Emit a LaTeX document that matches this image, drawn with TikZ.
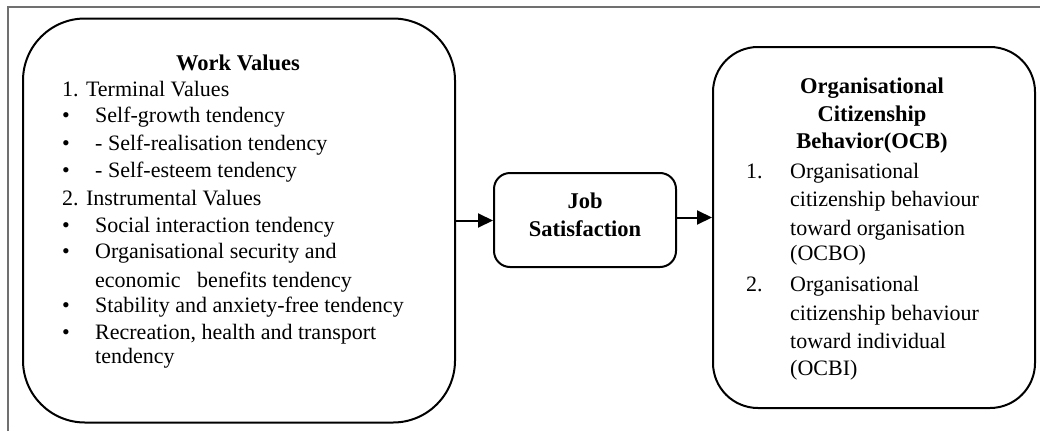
\documentclass[tikz,border=0pt]{standalone}
\usepackage{fontspec}
\setmainfont{Liberation Serif}
\usetikzlibrary{arrows.meta}
\definecolor{framegray}{RGB}{112,112,112}
\begin{document}
\begin{tikzpicture}[x=1pt,y=-1pt,
  box/.style={draw=black, line width=2pt, rounded corners=#1, inner sep=0pt},
  txt/.style={inner sep=0pt, anchor=base west, font=\fontsize{22}{26}\selectfont},
  ttl/.style={inner sep=0pt, anchor=base, font=\fontsize{22.5}{27}\selectfont\bfseries},
  blt/.style={inner sep=0pt, anchor=base, font=\fontsize{22}{26}\selectfont},
  arr/.style={line width=2pt, -{Triangle[length=15pt,width=14pt]}},
  framestyle/.style={draw=framegray, line width=2pt}]
\useasboundingbox (0,0) rectangle (1040,431);
% outer frame
\draw[framestyle] (7.5,431) -- (7.5,6.5) -- (1040,6.5);
% boxes
\node[box=62pt, minimum width=432pt, minimum height=404pt] (wv) at (239,220.5) {};
\node[box=16pt, minimum width=182pt, minimum height=94pt] (job) at (585,220) {};
\node[box=45pt, minimum width=322pt, minimum height=361pt] (ocb) at (874,227.5) {};
% work values text
\node[ttl] (wvt) at (238,70) {Work Values};
\node[txt] (wv1) at (62,96) {1. Terminal Values};
\node[blt] (b1) at (66,122) {•};
\node[txt] (wv2) at (95,122) {Self-growth tendency};
\node[blt] (b2) at (66,150) {•};
\node[txt] (wv3) at (95,150) {- Self-realisation tendency};
\node[blt] (b3) at (66,177) {•};
\node[txt] (wv4) at (95,177) {- Self-esteem tendency};
\node[txt] (wv5) at (62,205) {2. Instrumental Values};
\node[blt] (b4) at (66,232) {•};
\node[txt] (wv6) at (95,232) {Social interaction tendency};
\node[blt] (b5) at (66,258) {•};
\node[txt] (wv7) at (95,258) {Organisational security and};
\node[txt] (wv8) at (95,287) {economic\ \ \ benefits tendency};
\node[blt] (b6) at (66,312) {•};
\node[txt] (wv9) at (95,312) {Stability and anxiety-free tendency};
\node[blt] (b7) at (66,339) {•};
\node[txt] (wv10) at (95,339) {Recreation, health and transport};
\node[txt] (wv11) at (95,363) {tendency};
% job satisfaction text
\node[ttl] (jt1) at (585,208.5) {Job};
\node[ttl] (jt2) at (585,236) {Satisfaction};
% OCB text
\node[ttl] (ot1) at (872,93) {Organisational};
\node[ttl] (ot2) at (872,121.5) {Citizenship};
\node[ttl] (ot3) at (872,148) {Behavior(OCB)};
\node[txt] (on1) at (746,178) {1.};
\node[txt] (o1) at (790,178) {Organisational};
\node[txt] (o2) at (790,206.5) {citizenship behaviour};
\node[txt] (o3) at (790,235) {toward organisation};
\node[txt] (o4) at (790,260) {(OCBO)};
\node[txt] (on2) at (746,291.5) {2.};
\node[txt] (o5) at (790,291.5) {Organisational};
\node[txt] (o6) at (790,320) {citizenship behaviour};
\node[txt] (o7) at (790,348) {toward individual};
\node[txt] (o8) at (790,375) {(OCBI)};
% arrows
\draw[arr] (wv.east) -- (wv.east -| job.west);
\draw[arr] ([yshift=2.5pt]job.east) -- ([yshift=2.5pt]job.east -| ocb.west);
\end{tikzpicture}
\end{document}
